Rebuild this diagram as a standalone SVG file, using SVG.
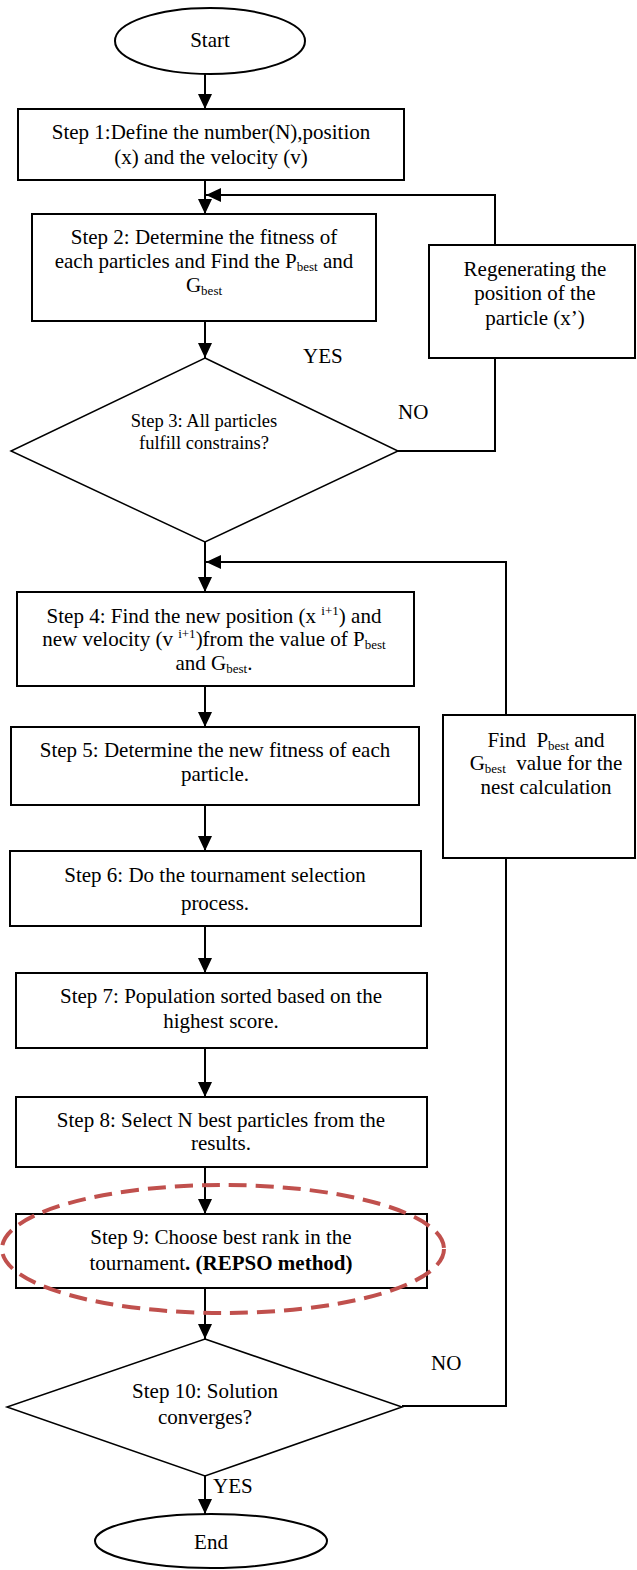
<svg xmlns="http://www.w3.org/2000/svg" width="637" height="1570" viewBox="0 0 637 1570">
<style>
.n{fill:#fff;stroke:#000;stroke-width:2}
.d{fill:#fff;stroke:#000;stroke-width:1.5}
.c{fill:none;stroke:#000;stroke-width:2}
.t{font-family:"Liberation Serif","Times New Roman",serif;font-size:21px;fill:#000;text-anchor:middle}
.s{font-family:"Liberation Serif","Times New Roman",serif;font-size:18.5px;fill:#000;text-anchor:middle}
.l{font-family:"Liberation Serif","Times New Roman",serif;font-size:21px;fill:#000}
.sb{font-size:13px}
.b{font-weight:bold}
.hl{fill:none;stroke:#C0504D;stroke-width:4;stroke-dasharray:18 9}
</style>
<defs>
<marker id="arr" viewBox="0 0 15 14" refX="15" refY="7" markerWidth="15" markerHeight="14" orient="auto" markerUnits="userSpaceOnUse">
<path d="M0,0 L15,7 L0,14 Z" fill="#000"/>
</marker>
</defs>
<g id="connectors">
<line class="c" x1="205" y1="74" x2="205" y2="109" marker-end="url(#arr)"/>
<line class="c" x1="205" y1="180" x2="205" y2="214" marker-end="url(#arr)"/>
<polyline class="c" points="495,245 495,195 206,195" marker-end="url(#arr)"/>
<line class="c" x1="205" y1="321" x2="205" y2="358" marker-end="url(#arr)"/>
<polyline class="c" points="398,451 495,451 495,358"/>
<line class="c" x1="205" y1="542" x2="205" y2="592" marker-end="url(#arr)"/>
<polyline class="c" points="506,715 506,562 206,562" marker-end="url(#arr)"/>
<line class="c" x1="205" y1="686" x2="205" y2="727" marker-end="url(#arr)"/>
<line class="c" x1="205" y1="805" x2="205" y2="851" marker-end="url(#arr)"/>
<line class="c" x1="205" y1="926" x2="205" y2="973" marker-end="url(#arr)"/>
<line class="c" x1="205" y1="1048" x2="205" y2="1097" marker-end="url(#arr)"/>
<line class="c" x1="205" y1="1167" x2="205" y2="1214" marker-end="url(#arr)"/>
<line class="c" x1="205" y1="1288" x2="205" y2="1339" marker-end="url(#arr)"/>
<polyline class="c" points="402,1406 506,1406 506,858"/>
<line class="c" x1="205" y1="1476" x2="205" y2="1514" marker-end="url(#arr)"/>
<text class="l" x="303" y="363">YES</text>
<text class="l" x="398" y="419">NO</text>
<text class="l" x="431" y="1370">NO</text>
<text class="l" x="213" y="1493">YES</text>
</g>
<g id="start">
<ellipse class="n" cx="210" cy="41" rx="95" ry="33"/>
<text class="t" x="210" y="47">Start</text>
</g>
<g id="step1">
<rect class="n" x="18" y="109" width="386" height="71"/>
<text class="t" x="211" y="139">Step 1:Define the number(N),position</text>
<text class="t" x="211" y="164">(x) and the velocity (v)</text>
</g>
<g id="step2">
<rect class="n" x="32" y="214" width="344" height="107"/>
<text class="t" x="204" y="244">Step 2: Determine the fitness of</text>
<text class="t" x="204" y="268">each particles and Find the P<tspan class="sb" dy="3">best</tspan><tspan dy="-3"> and</tspan></text>
<text class="t" x="204" y="292">G<tspan class="sb" dy="3">best</tspan></text>
</g>
<g id="regen">
<rect class="n" x="429" y="245" width="206" height="113"/>
<text class="t" x="535" y="276">Regenerating the</text>
<text class="t" x="535" y="300">position of the</text>
<text class="t" x="535" y="325">particle (x’)</text>
</g>
<g id="step3">
<polygon class="d" points="205,358 398,451 205,542 11,451"/>
<text class="s" x="204" y="427">Step 3: All particles</text>
<text class="s" x="204" y="449">fulfill constrains?</text>
</g>
<g id="step4">
<rect class="n" x="17" y="592" width="397" height="94"/>
<text class="t" x="214" y="623">Step 4: Find the new position (x <tspan class="sb" dy="-8">i+1</tspan><tspan dy="8">) and</tspan></text>
<text class="t" x="214" y="646">new velocity (v <tspan class="sb" dy="-8">i+1</tspan><tspan dy="8">)from the value of P</tspan><tspan class="sb" dy="3">best</tspan></text>
<text class="t" x="214" y="670">and G<tspan class="sb" dy="3">best</tspan><tspan dy="-3">.</tspan></text>
</g>
<g id="find">
<rect class="n" x="443" y="715" width="192" height="143"/>
<text class="t" x="546" y="747">Find&#160; P<tspan class="sb" dy="3">best</tspan><tspan dy="-3"> and</tspan></text>
<text class="t" x="546" y="770">G<tspan class="sb" dy="3">best</tspan><tspan dy="-3">&#160; value for the</tspan></text>
<text class="t" x="546" y="794">nest calculation</text>
</g>
<g id="step5">
<rect class="n" x="11" y="727" width="408" height="78"/>
<text class="t" x="215" y="757">Step 5: Determine the new fitness of each</text>
<text class="t" x="215" y="781">particle.</text>
</g>
<g id="step6">
<rect class="n" x="10" y="851" width="411" height="75"/>
<text class="t" x="215" y="882">Step 6: Do the tournament selection</text>
<text class="t" x="215" y="910">process.</text>
</g>
<g id="step7">
<rect class="n" x="16" y="973" width="411" height="75"/>
<text class="t" x="221" y="1003">Step 7: Population sorted based on the</text>
<text class="t" x="221" y="1028">highest score.</text>
</g>
<g id="step8">
<rect class="n" x="16" y="1097" width="411" height="70"/>
<text class="t" x="221" y="1127">Step 8: Select N best particles from the</text>
<text class="t" x="221" y="1150">results.</text>
</g>
<g id="step9">
<rect class="n" x="16" y="1214" width="411" height="74"/>
<text class="t" x="221" y="1244">Step 9: Choose best rank in the</text>
<text class="t" x="221" y="1270">tournament<tspan class="b">. (REPSO method)</tspan></text>
</g>
<g id="step10">
<polygon class="d" points="205,1339 402,1407 205,1476 7,1407"/>
<text class="t" x="205" y="1398">Step 10: Solution</text>
<text class="t" x="205" y="1424">converges?</text>
</g>
<g id="end">
<ellipse class="n" cx="211" cy="1541" rx="116" ry="27"/>
<text class="t" x="211" y="1549">End</text>
</g>
<g id="highlight">
<ellipse class="hl" cx="223" cy="1249" rx="221" ry="64"/>
</g>
</svg>
